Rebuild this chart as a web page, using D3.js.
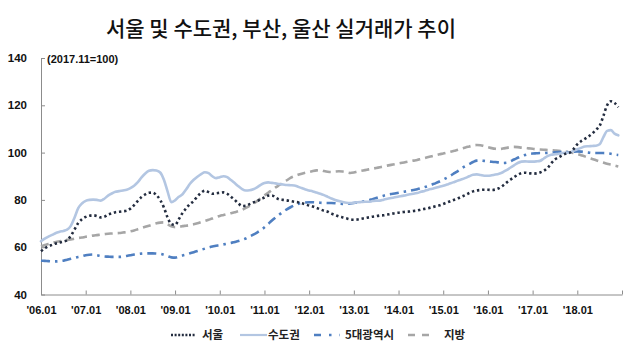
<!DOCTYPE html>
<html>
<head>
<meta charset="utf-8">
<script src="https://cdn.jsdelivr.net/npm/d3@7"></script>
<style>
  html, body { margin: 0; padding: 0; background: #fff; }
  svg { display: block; }
</style>
</head>
<body>
<svg id="chart" width="639" height="357"></svg>
<script>
// ---- Data (index 2017.11 = 100), monthly 2006.01 .. 2018.12 ----
const startYear = 2006;
const monthCount = 156;
const yearTickLabels = ["'06.01","'07.01","'08.01","'09.01","'10.01","'11.01","'12.01","'13.01","'14.01","'15.01","'16.01","'17.01","'18.01"];
const yTicks = [40, 60, 80, 100, 120, 140];
const seriesNames = ["서울", "수도권", "5대광역시", "지방"];

const seoul = [
  58.3,59.5,60.4,61.0,61.6,62.0,62.4,63.0,64.8,67.5,70.2,71.8,
  72.8,73.3,73.5,73.2,72.6,72.9,73.8,74.3,74.8,75.0,75.2,75.4,
  76.3,77.8,79.6,81.2,82.3,83.0,83.1,82.0,80.0,76.8,72.5,69.8,
  69.4,71.8,74.5,76.5,78.3,79.5,81.5,83.0,83.9,83.3,82.6,82.8,
  83.0,83.2,82.6,81.3,80.0,78.5,77.4,77.5,78.2,78.9,79.5,80.3,
  81.0,81.8,81.9,81.0,80.2,80.0,79.8,79.5,79.2,79.0,78.6,78.1,
  77.6,77.2,76.6,76.0,75.4,75.0,74.2,73.6,73.0,72.6,72.2,71.8,
  71.6,71.7,72.0,72.3,72.6,72.9,73.1,73.4,73.5,73.8,74.1,74.4,
  74.6,74.8,75.0,75.1,75.3,75.5,75.9,76.2,76.5,76.9,77.3,77.7,
  78.3,78.9,79.5,80.1,80.7,81.4,82.1,82.9,83.6,84.0,84.2,84.3,
  84.3,84.2,84.4,85.0,86.0,87.3,88.5,89.6,90.6,91.3,91.5,91.3,
  91.1,91.2,91.6,92.3,93.5,95.5,97.1,98.0,98.9,99.6,100.0,101.5,
  103.5,104.8,105.8,106.8,108.0,109.6,111.3,115.5,120.0,121.7,121.0,119.2
];
const capital = [
  62.5,63.6,64.5,65.2,66.0,66.5,66.9,67.4,69.0,72.5,76.5,78.5,
  79.6,80.0,80.1,80.0,79.7,80.5,81.8,82.7,83.4,83.7,84.0,84.3,
  85.0,86.0,87.5,89.5,91.2,92.3,92.6,92.4,91.6,88.5,83.5,79.0,
  79.8,81.3,82.4,84.5,86.8,88.5,89.8,90.9,91.7,91.3,90.0,89.2,
  89.6,90.0,89.6,88.4,87.1,85.8,84.6,84.0,84.1,84.5,85.3,86.4,
  87.1,87.4,87.2,87.0,86.7,86.5,86.3,86.2,86.1,85.6,85.0,84.4,
  84.0,83.6,83.1,82.6,82.0,81.3,80.6,80.0,79.5,79.1,78.8,78.7,
  78.8,79.0,79.1,79.2,79.2,79.5,79.7,79.7,80.1,80.5,80.8,81.1,
  81.4,81.7,82.0,82.4,82.6,82.9,83.4,83.8,84.3,84.7,85.1,85.6,
  86.0,86.5,87.0,87.6,88.2,88.7,89.3,90.0,90.6,90.8,90.5,90.2,
  90.2,90.4,90.7,91.1,91.7,92.6,93.6,94.6,95.6,96.2,96.3,96.2,
  96.2,96.3,96.5,97.5,98.5,99.1,99.3,99.5,99.8,99.9,100.0,100.8,
  101.4,102.0,102.6,102.7,102.8,102.9,103.5,106.5,109.2,109.5,108.0,107.3
];
const metro5 = [
  54.3,54.2,54.1,54.0,54.0,54.1,54.3,54.7,55.1,55.5,55.9,56.2,
  56.6,56.8,56.9,56.6,56.3,56.1,56.0,55.9,55.9,55.9,56.0,56.3,
  56.6,56.9,57.1,57.3,57.4,57.4,57.4,57.3,57.2,56.8,56.2,55.7,
  55.6,56.0,56.5,56.9,57.4,57.9,58.4,58.9,59.4,59.9,60.3,60.6,
  60.9,61.2,61.5,61.8,62.2,62.6,63.1,63.7,64.5,65.3,66.2,67.2,
  68.4,69.8,71.3,72.6,73.8,75.0,76.0,76.9,77.7,78.3,78.7,78.9,
  79.0,79.0,78.9,78.8,78.7,78.7,78.7,78.6,78.4,78.3,78.3,78.5,
  78.7,78.9,79.2,79.5,79.8,80.3,80.8,81.3,81.8,82.2,82.5,82.7,
  83.0,83.3,83.6,83.9,84.2,84.5,84.9,85.4,85.9,86.5,87.1,87.8,
  88.6,89.4,90.3,91.3,92.3,93.4,94.4,95.2,96.0,96.6,96.7,96.5,
  96.3,96.1,96.0,95.8,95.6,95.7,96.3,97.1,97.8,98.5,99.0,99.4,
  99.6,99.7,99.8,99.8,99.9,100.0,100.1,100.2,100.3,100.3,100.0,100.4,
  100.5,100.4,100.2,100.0,99.8,99.8,99.8,99.8,99.7,99.5,99.2,99.0
];
const provinces = [
  60.4,60.9,61.4,61.8,62.2,62.5,62.8,63.1,63.3,63.6,63.9,64.1,
  64.4,64.6,64.9,65.1,65.3,65.5,65.7,65.8,65.9,66.0,66.2,66.4,
  66.7,67.1,67.6,68.1,68.6,69.1,69.6,70.1,70.4,70.5,69.7,68.8,
  68.5,68.6,68.9,69.1,69.4,69.7,70.1,70.6,71.1,71.6,72.1,72.7,
  73.2,73.6,74.0,74.4,74.8,75.2,75.8,76.6,77.5,78.4,79.5,80.7,
  81.9,83.0,84.2,85.3,86.3,87.3,88.3,89.3,90.0,90.6,91.1,91.5,
  91.8,92.2,92.5,92.6,92.2,91.9,91.8,92.0,92.1,92.0,91.7,91.4,
  91.6,92.0,92.3,92.6,92.9,93.2,93.5,93.8,94.1,94.5,94.8,95.1,
  95.4,95.7,96.0,96.3,96.6,96.9,97.3,97.7,98.1,98.5,98.9,99.3,
  99.6,100.0,100.4,100.8,101.2,101.7,102.2,102.6,103.0,103.2,103.1,102.7,
  102.3,101.9,101.6,101.5,101.7,102.0,102.3,102.4,102.3,102.1,102.0,101.8,
  101.6,101.4,101.3,101.2,101.1,101.0,100.9,100.8,100.6,100.3,100.0,99.8,
  99.4,98.9,98.4,97.8,97.3,96.8,96.3,95.8,95.3,94.9,94.5,94.1
];

// ---- Layout ----
const svg = d3.select("#chart");
const x = d3.scaleLinear().domain([0, monthCount]).range([41, 622]);
const y = d3.scaleLinear().domain([40, 140]).range([294.5, 58]);
const axisColor = "#8c8c8c";
const tickFont = "'Liberation Sans', Arial, sans-serif";
const krFont = "'Noto Sans CJK KR', 'Liberation Sans', sans-serif";

// Title
svg.append("text")
  .attr("x", 281).attr("y", 36)
  .attr("text-anchor", "middle")
  .attr("font-family", krFont)
  .attr("font-size", 21)
  .attr("font-weight", 500)
  .attr("fill", "#111")
  .text("서울 및 수도권, 부산, 울산 실거래가 추이");

// Y axis
const yAxis = d3.axisLeft(y).tickValues(yTicks).tickSizeInner(-4).tickSizeOuter(0).tickPadding(14);
const gy = svg.append("g").attr("transform", "translate(41,0)").call(yAxis);
gy.select(".domain").attr("stroke", axisColor);
gy.selectAll(".tick line").attr("stroke", axisColor);
gy.selectAll(".tick text")
  .attr("font-family", tickFont).attr("font-size", 11.5).attr("font-weight", "bold").attr("fill", "#111");

// X axis
const xTickVals = d3.range(0, monthCount + 1, 12);
const xAxis = d3.axisBottom(x).tickValues(xTickVals)
  .tickFormat((d, i) => yearTickLabels[i] || "")
  .tickSizeInner(-4).tickSizeOuter(0).tickPadding(11.5);
const gx = svg.append("g").attr("transform", "translate(0,294.5)").call(xAxis);
gx.select(".domain").attr("stroke", axisColor);
gx.selectAll(".tick line").attr("stroke", axisColor);
gx.selectAll(".tick text")
  .attr("font-family", tickFont).attr("font-size", 11).attr("font-weight", "bold").attr("fill", "#111");

// Unit note
svg.append("text")
  .attr("x", 47).attr("y", 62.5)
  .attr("font-family", tickFont).attr("font-size", 11).attr("font-weight", "bold").attr("fill", "#111")
  .text("(2017.11=100)");

// Series
const styles = [
  { name: seriesNames[0], data: seoul,     color: "#232c3f", width: 2.6, dash: "2.4 2.8", cap: "butt" },
  { name: seriesNames[1], data: capital,   color: "#b3c6e2", width: 2.6, dash: null,      cap: "round" },
  { name: seriesNames[2], data: metro5,    color: "#4f7fc1", width: 2.6, dash: "9 5 2.5 5", cap: "butt" },
  { name: seriesNames[3], data: provinces, color: "#a6a6a6", width: 2.6, dash: "8 5",     cap: "butt" }
];
const line = d3.line().x((d, i) => x(i)).y(d => y(d)).curve(d3.curveMonotoneX);
const drawOrder = [3, 2, 1, 0];
drawOrder.forEach(k => {
  const s = styles[k];
  svg.append("path")
    .datum(s.data)
    .attr("fill", "none")
    .attr("stroke", s.color)
    .attr("stroke-width", s.width)
    .attr("stroke-dasharray", s.dash)
    .attr("stroke-linecap", s.cap)
    .attr("stroke-linejoin", "round")
    .attr("d", line);
});

// Legend
const legendItems = [
  { x0: 171, x1: 196, tx: 202 },
  { x0: 240, x1: 267, tx: 268 },
  { x0: 314, x1: 340, tx: 345 },
  { x0: 408, x1: 436, tx: 444 }
];
const legendY = 335;
legendItems.forEach((p, i) => {
  const s = styles[i];
  svg.append("line")
    .attr("x1", p.x0).attr("x2", p.x1).attr("y1", legendY).attr("y2", legendY)
    .attr("stroke", s.color).attr("stroke-width", i === 1 ? 2.2 : 2.4)
    .attr("stroke-dasharray", i === 0 ? "2 1.6" : (i === 2 ? "7 8 2.5 8" : (i === 3 ? "7 7" : null)));
  svg.append("text")
    .attr("x", p.tx).attr("y", legendY + 4)
    .attr("font-family", krFont).attr("font-size", 11.5).attr("font-weight", "bold").attr("fill", "#222")
    .text(s.name);
});
</script>
</body>
</html>
